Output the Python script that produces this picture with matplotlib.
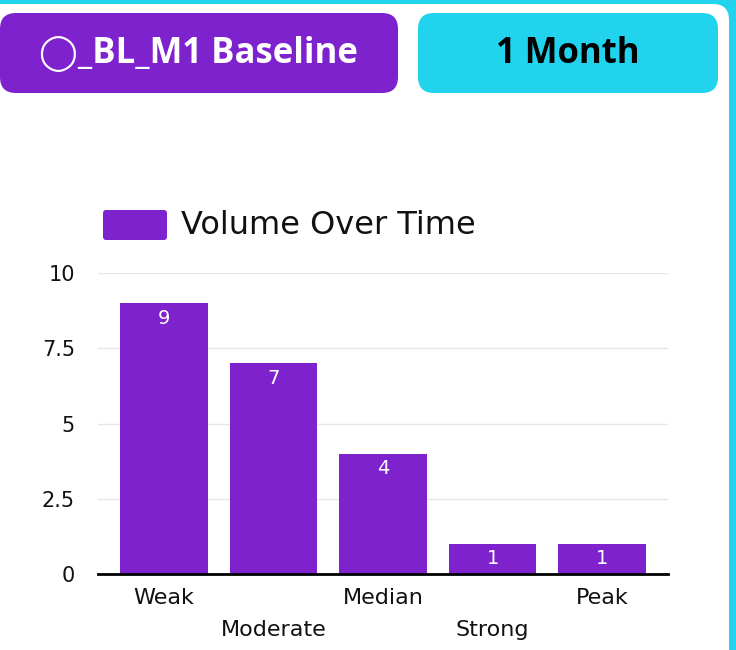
import matplotlib
matplotlib.use("Agg")
import matplotlib.pyplot as plt
from matplotlib.patches import FancyBboxPatch

categories = ["Weak", "Moderate", "Median", "Strong", "Peak"]
values = [9, 7, 4, 1, 1]
series_name = "Volume Over Time"
y_ticks = [0, 2.5, 5, 7.5, 10]
y_tick_labels = ["0", "2.5", "5", "7.5", "10"]
title_left = "\u25EF_BL_M1 Baseline"
title_right = "1 Month"

PURPLE = "#7E22CE"
CYAN = "#22D3EE"
W, H = 736, 650
PX = 0.72  # points per pixel at dpi 100

fig = plt.figure(figsize=(W / 100, H / 100), dpi=100)
fig.patch.set_facecolor(CYAN)

# overlay in pixel coordinates
ov = fig.add_axes([0, 0, 1, 1], zorder=0)
ov.set_xlim(0, W)
ov.set_ylim(H, 0)
ov.axis("off")

card = FancyBboxPatch((-40, 4), 40 + 729, H + 40, boxstyle="round,pad=0,rounding_size=16",
                      facecolor="white", edgecolor="none")
ov.add_patch(card)
btn1 = FancyBboxPatch((0, 13), 398, 80, boxstyle="round,pad=0,rounding_size=16",
                      facecolor=PURPLE, edgecolor="none")
btn2 = FancyBboxPatch((418, 13), 300, 80, boxstyle="round,pad=0,rounding_size=16",
                      facecolor=CYAN, edgecolor="none")
ov.add_patch(btn1)
ov.add_patch(btn2)
ov.text(198, 54, title_left, color="white", fontsize=25, fontweight="bold",
        family=["Open Sans", "DejaVu Sans"], ha="center", va="center")
ov.text(568, 54, title_right, color="black", fontsize=25, fontweight="bold",
        family=["Open Sans", "DejaVu Sans"], ha="center", va="center")

# legend
leg_box = FancyBboxPatch((103, 210), 64, 30, boxstyle="round,pad=0,rounding_size=3",
                         facecolor=PURPLE, edgecolor="none")
ov.add_patch(leg_box)
ov.text(181, 225, series_name, color="#111111", fontsize=23,
        family="DejaVu Sans", ha="left", va="center")

# chart
ax = fig.add_axes([98 / W, (H - 574) / H, 570 / W, 301 / H], zorder=1)
ax.patch.set_alpha(0)
x = list(range(len(categories)))
ax.bar(x, values, width=0.8, color=PURPLE, zorder=2)
ax.set_xlim(-0.6, len(categories) - 0.4)
ax.set_ylim(0, 10)
ax.set_yticks(y_ticks)
ax.set_yticklabels(y_tick_labels, fontsize=15, color="#111111", family="DejaVu Sans")
ax.tick_params(axis="y", length=0, pad=23 * PX)
ax.set_xticks([])
for s in ["top", "right", "left"]:
    ax.spines[s].set_visible(False)
ax.spines["bottom"].set_color("black")
ax.spines["bottom"].set_linewidth(2)
ax.spines["bottom"].set_zorder(3)
ax.grid(axis="y", color="#e6e6e6", linewidth=1, zorder=0)
ax.set_axisbelow(True)

for i, (c, v) in enumerate(zip(categories, values)):
    ax.annotate(str(v), (i, v), xytext=(0, -15 * PX), textcoords="offset points",
                ha="center", va="center", color="white", fontsize=14, family="DejaVu Sans")
    off = -24 if i % 2 == 0 else -56
    ax.annotate(c, (i, 0), xytext=(0, off * PX), textcoords="offset points",
                ha="center", va="center", color="#111111", fontsize=16,
                family="DejaVu Sans", annotation_clip=False)

fig.savefig("out.png", dpi=100, facecolor=fig.get_facecolor())
